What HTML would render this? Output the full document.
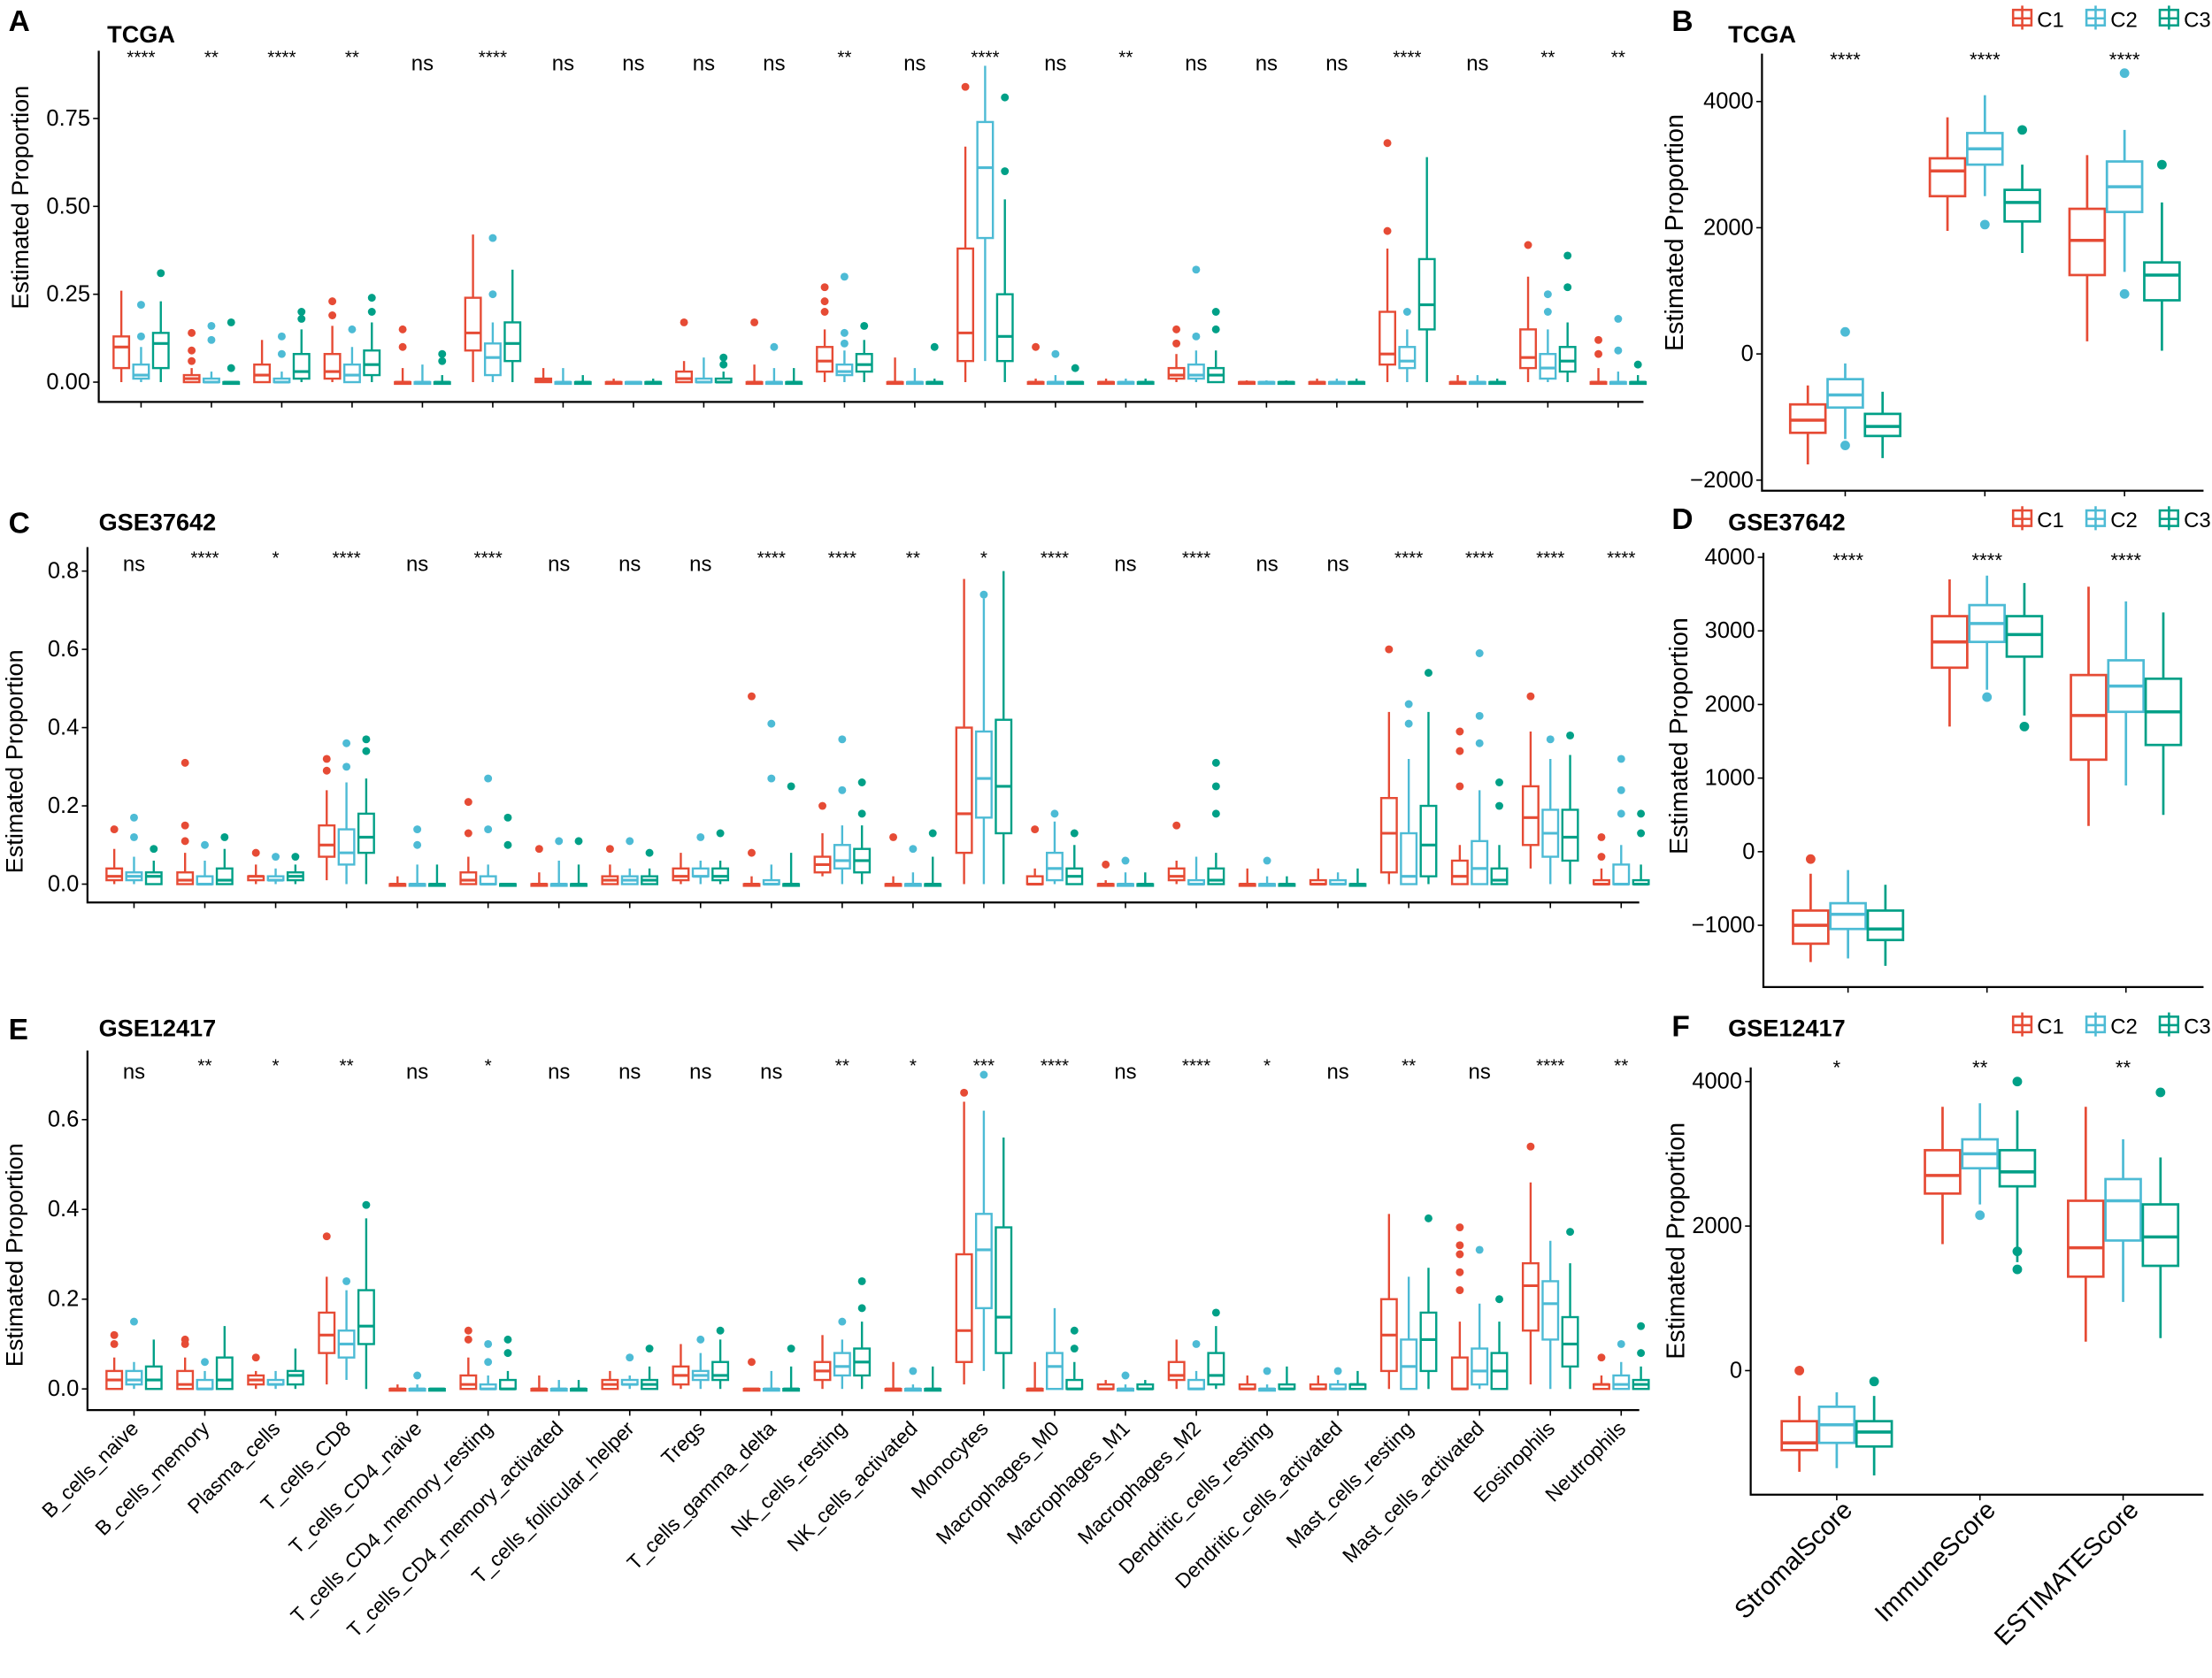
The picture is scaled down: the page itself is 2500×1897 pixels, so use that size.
<!DOCTYPE html>
<html><head><meta charset="utf-8"><style>
html,body{margin:0;padding:0;background:#fff;}
svg{display:block;font-family:"Liberation Sans",Arial,sans-serif;}
</style></head><body>
<svg id="fig" xmlns="http://www.w3.org/2000/svg" width="2500" height="1897" viewBox="0 0 1568 1190" preserveAspectRatio="none"></svg>
<script>
const cells=["B_cells_naive","B_cells_memory","Plasma_cells","T_cells_CD8","T_cells_CD4_naive","T_cells_CD4_memory_resting","T_cells_CD4_memory_activated","T_cells_follicular_helper","Tregs","T_cells_gamma_delta","NK_cells_resting","NK_cells_activated","Monocytes","Macrophages_M0","Macrophages_M1","Macrophages_M2","Dendritic_cells_resting","Dendritic_cells_activated","Mast_cells_resting","Mast_cells_activated","Eosinophils","Neutrophils"];
const scores=["StromalScore","ImmuneScore","ESTIMATEScore"];
const groups=["C1","C2","C3"];
const colors=["#E64B35","#4DBBD5","#00A087"];
// each box: [lowWhisker,q1,median,q3,highWhisker,...outliers]
const sigA=["****","**","****","**","ns","****","ns","ns","ns","ns","**","ns","****","ns","**","ns","ns","ns","****","ns","**","**"];
const boxesA=[
[[0,.04,.1,.13,.26],[0,.01,.02,.05,.1,.13,.22],[0,.04,.11,.14,.23,.31]],
[[0,0,.01,.02,.04,.06,.09,.14],[0,0,0,.01,.03,.12,.16],[0,0,0,0,0,.04,.17]],
[[0,0,.02,.05,.12],[0,0,0,.01,.03,.08,.13],[0,.01,.03,.08,.15,.18,.2]],
[[0,.01,.03,.08,.16,.19,.23],[0,0,.02,.05,.1,.15],[0,.02,.05,.09,.17,.2,.24]],
[[0,0,0,0,.04,.1,.15],[0,0,0,0,.05],[0,0,0,0,.02,.06,.08]],
[[0,.09,.14,.24,.42],[0,.02,.07,.11,.17,.25,.41],[0,.06,.11,.17,.32]],
[[0,0,.005,.01,.04],[0,0,0,0,.04],[0,0,0,0,.02]],
[[0,0,0,0,.01],[0,0,0,0,0],[0,0,0,0,.01]],
[[0,0,.01,.03,.06,.17],[0,0,0,.01,.07],[0,0,0,.01,.03,.05,.07]],
[[0,0,0,0,.05,.17],[0,0,0,0,.04,.1],[0,0,0,0,.04]],
[[0,.03,.06,.1,.15,.2,.23,.27],[0,.02,.03,.05,.09,.11,.14,.3],[0,.03,.05,.08,.12,.16]],
[[0,0,0,0,.07],[0,0,0,0,.04],[0,0,0,0,.01,.1]],
[[0,.06,.14,.38,.67,.84],[.06,.41,.61,.74,.9],[0,.06,.13,.25,.52,.6,.81]],
[[0,0,0,0,.01,.1],[0,0,0,0,.02,.08],[0,0,0,0,0,.04]],
[[0,0,0,0,.01],[0,0,0,0,.01],[0,0,0,0,.01]],
[[0,.01,.02,.04,.08,.11,.15],[0,.01,.02,.05,.09,.13,.32],[0,0,.02,.04,.09,.15,.2]],
[[0,0,0,0,.005],[0,0,0,0,.005],[0,0,0,0,.005]],
[[0,0,0,0,.01],[0,0,0,0,.01],[0,0,0,0,.01]],
[[0,.05,.08,.2,.38,.43,.68],[0,.04,.06,.1,.15,.2],[0,.15,.22,.35,.64]],
[[0,0,0,0,.02],[0,0,0,0,.02],[0,0,0,0,.01]],
[[0,.04,.07,.15,.3,.39],[0,.01,.04,.08,.15,.2,.25],[0,.03,.06,.1,.17,.27,.36]],
[[0,0,0,0,.04,.08,.12],[0,0,0,0,.03,.09,.18],[0,0,0,0,.02,.05]]];
const sigC=["ns","****","*","****","ns","****","ns","ns","ns","****","****","**","*","****","ns","****","ns","ns","****","****","****","****"];
const boxesC=[
[[0,.01,.02,.04,.09,.14],[0,.01,.02,.03,.07,.12,.17],[0,0,.02,.03,.06,.09]],
[[0,0,.01,.03,.08,.11,.15,.31],[0,0,0,.02,.06,.1],[0,0,.01,.04,.09,.12]],
[[0,.01,.02,.02,.05,.08],[0,.01,.01,.02,.04,.07],[0,.01,.02,.03,.05,.07]],
[[.01,.07,.1,.15,.24,.29,.32],[0,.05,.08,.14,.26,.3,.36],[0,.08,.12,.18,.27,.34,.37]],
[[0,0,0,0,.02],[0,0,0,0,.05,.1,.14],[0,0,0,0,.05]],
[[0,0,.01,.03,.07,.13,.21],[0,0,0,.02,.05,.14,.27],[0,0,0,0,0,.1,.17]],
[[0,0,0,0,.03,.09],[0,0,0,0,.06,.11],[0,0,0,0,.05,.11]],
[[0,0,.01,.02,.05,.09],[0,0,.01,.02,.04,.11],[0,0,.01,.02,.04,.08]],
[[0,.01,.02,.04,.08],[0,.02,.02,.04,.06,.12],[0,.01,.02,.04,.06,.13]],
[[0,0,0,0,.02,.08,.48],[0,0,0,.01,.05,.27,.41],[0,0,0,0,.08,.25]],
[[.02,.03,.05,.07,.13,.2],[0,.04,.06,.1,.15,.24,.37],[0,.03,.06,.09,.15,.18,.26]],
[[0,0,0,0,.02,.12],[0,0,0,0,.03,.09],[0,0,0,0,.07,.13]],
[[0,.08,.18,.4,.78],[0,.17,.27,.39,.73,.74],[0,.13,.25,.42,.8]],
[[0,0,0,.02,.04,.14],[0,.01,.04,.08,.16,.18],[0,0,.02,.04,.1,.13]],
[[0,0,0,0,.01,.05],[0,0,0,0,.03,.06],[0,0,0,0,.03]],
[[0,.01,.02,.04,.06,.15],[0,0,0,.01,.07],[0,0,.01,.04,.08,.18,.25,.31]],
[[0,0,0,0,.04],[0,0,0,0,.02,.06],[0,0,0,0,.02]],
[[0,0,0,.01,.04],[0,0,0,.01,.03],[0,0,0,0,.04]],
[[0,.03,.13,.22,.44,.6],[0,0,.02,.13,.32,.41,.46],[0,.02,.1,.2,.44,.54]],
[[0,0,.02,.06,.1,.25,.34,.39],[0,0,.04,.11,.24,.36,.43,.59],[0,0,.01,.04,.1,.2,.26]],
[[.04,.1,.17,.25,.39,.48],[0,.07,.13,.19,.32,.37],[0,.06,.12,.19,.33,.38]],
[[0,0,0,.01,.04,.07,.12],[0,0,0,.05,.1,.18,.24,.32],[0,0,0,.01,.05,.13,.18]]];
const sigE=["ns","**","*","**","ns","*","ns","ns","ns","ns","**","*","***","****","ns","****","*","ns","**","ns","****","**"];
const boxesE=[
[[0,0,.02,.04,.07,.1,.12],[0,.01,.02,.04,.06,.15],[0,0,.02,.05,.11]],
[[0,0,.01,.04,.07,.1,.11],[0,0,0,.02,.04,.06],[0,0,.02,.07,.14]],
[[0,.01,.02,.03,.04,.07],[0,.01,.01,.02,.04],[0,.01,.03,.04,.09]],
[[.01,.08,.12,.17,.25,.34],[.02,.07,.1,.13,.22,.24],[0,.1,.14,.22,.38,.41]],
[[0,0,0,0,.01],[0,0,0,0,.01,.03],[0,0,0,0,0]],
[[0,0,.01,.03,.07,.11,.13],[0,0,0,.01,.03,.06,.1],[0,0,0,.02,.04,.08,.11]],
[[0,0,0,0,.03],[0,0,0,0,.02],[0,0,0,0,.02]],
[[0,0,.01,.02,.04],[0,.01,.01,.02,.03,.07],[0,0,.01,.02,.05,.09]],
[[0,.01,.03,.05,.1],[0,.02,.03,.04,.08,.11],[0,.02,.03,.06,.11,.13]],
[[0,0,0,0,0,.06],[0,0,0,0,.04],[0,0,0,0,.05,.09]],
[[0,.02,.04,.06,.12],[0,.03,.05,.08,.11,.15],[0,.03,.06,.09,.15,.18,.24]],
[[0,0,0,0,.06],[0,0,0,0,.01,.04],[0,0,0,0,.05]],
[[.01,.06,.13,.3,.64,.66],[.04,.18,.31,.39,.62,.7],[0,.08,.16,.36,.56]],
[[0,0,0,0,.06],[0,0,.05,.08,.18],[0,0,0,.02,.06,.09,.13]],
[[0,0,0,.01,.02],[0,0,0,0,.01,.03],[0,0,0,.01,.02]],
[[0,.02,.03,.06,.11],[0,0,0,.02,.04,.1],[0,.01,.03,.08,.14,.17]],
[[0,0,0,.01,.03],[0,0,0,0,.01,.04],[0,0,0,.01,.05]],
[[0,0,0,.01,.03],[0,0,0,.01,.02,.04],[0,0,.01,.01,.04]],
[[0,.04,.12,.2,.39],[0,0,.05,.11,.25],[0,.04,.11,.17,.27,.38]],
[[0,0,0,.07,.15,.22,.26,.3,.32,.36],[0,.01,.04,.09,.19,.31],[0,0,.04,.08,.15,.2]],
[[.01,.13,.23,.28,.46,.54],[0,.11,.19,.24,.33],[0,.05,.1,.16,.28,.35]],
[[0,0,.01,.01,.03,.07],[0,0,.01,.03,.06,.1],[0,0,.01,.02,.05,.08,.14]]];
const sigB=["****","****","****"];
const boxesB=[
[[-1750,-1250,-1050,-800,-500],[-1350,-850,-650,-400,-150,350,-1450],[-1650,-1300,-1150,-950,-600]],
[[1950,2500,2900,3100,3750],[2500,3000,3250,3500,4100,2050],[1600,2100,2400,2600,3000,3550]],
[[200,1250,1800,2300,3150],[1300,2250,2650,3050,3550,4450,950],[50,850,1250,1450,2400,3000]]];
const sigD=["****","****","****"];
const boxesD=[
[[-1500,-1250,-1000,-800,-300,-100],[-1450,-1050,-850,-700,-250],[-1550,-1200,-1050,-800,-450]],
[[1700,2500,2850,3200,3700],[2200,2850,3100,3350,3750,2100],[1850,2650,2950,3200,3650,1700]],
[[350,1250,1850,2400,3600],[900,1900,2250,2600,3400],[500,1450,1900,2350,3250]]];
const sigF=["*","**","**"];
const boxesF=[
[[-1400,-1100,-1000,-700,-350,0],[-1350,-1000,-750,-500,-300],[-1450,-1050,-850,-700,-350,-150]],
[[1750,2450,2700,3050,3650],[2300,2800,3000,3200,3700,2150],[1500,2550,2750,3050,3600,4000,1650,1400]],
[[400,1300,1700,2350,3650],[950,1800,2350,2650,3200],[450,1450,1850,2300,2950,3850]]];
const ticksA=[0,0.25,0.5,0.75], tickLabA=["0.00","0.25","0.50","0.75"];
const ticksC=[0,0.2,0.4,0.6,0.8], tickLabC=["0.0","0.2","0.4","0.6","0.8"];
const ticksE=[0,0.2,0.4,0.6], tickLabE=["0.0","0.2","0.4","0.6"];
const ticksB=[-2000,0,2000,4000], tickLabB=["\u22122000","0","2000","4000"];
const ticksD=[-1000,0,1000,2000,3000,4000], tickLabD=["\u22121000","0","1000","2000","3000","4000"];
const ticksF=[0,2000,4000], tickLabF=["0","2000","4000"];

const NS="http://www.w3.org/2000/svg";
const svg=document.getElementById('fig');
function mk(tag,attrs,parent,text){const e=document.createElementNS(NS,tag);for(const k in attrs)e.setAttribute(k,attrs[k]);if(text!==undefined)e.textContent=text;(parent||svg).appendChild(e);return e;}

function panel(cfg){
  const g=mk('g',{});
  
  
  const y=v=>cfg.y0-(v-cfg.vmin)*cfg.k;
  const x=i=>cfg.x0+i*cfg.dx;
  const L=mk('text',{x:cfg.letterX,y:cfg.letterY,'font-size':21,'font-weight':'bold'},g,cfg.letter);
  
  
  const T=mk('text',{x:cfg.titleX,y:cfg.titleY,'font-size':17,'font-weight':'bold'},g,cfg.title);
  
  
  const ax=mk('path',{d:`M${cfg.axX},${cfg.top} V${cfg.axY} H${cfg.right}`,stroke:'#000','stroke-width':1.4,fill:'none'},g);
  
  
  cfg.ticks.forEach((t,i)=>{
    const ty=y(t);
    mk('line',{x1:cfg.axX-4,x2:cfg.axX,y1:ty,y2:ty,stroke:'#000','stroke-width':1},g);
    const tl=mk('text',{x:cfg.axX-6,y:ty+5,'font-size':cfg.tickFs,'text-anchor':'end',fill:'#000'},g,cfg.tickLab[i]);
    
    
  });
  const yt=mk('text',{x:0,y:0,'font-size':cfg.ytFs,'text-anchor':'middle',transform:`translate(${cfg.ytX},${cfg.ytY}) rotate(-90)`},g,'Estimated Proportion');
  
  
  cfg.boxes.forEach((cat,i)=>{
    const cx=x(i);
    mk('line',{x1:cx,x2:cx,y1:cfg.axY,y2:cfg.axY+4,stroke:'#000','stroke-width':1},g);
    const s=cfg.sig[i];
    const st=mk('text',{x:cx,y:s==='ns'?cfg.sigY+5:cfg.sigY,'font-size':s==='ns'?cfg.nsFs:cfg.starFs,'text-anchor':'middle'},g,s);
    
    
    if(cfg.labels){
      const lt=mk('text',{x:0,y:0,'font-size':cfg.labFs,'text-anchor':'end',transform:`translate(${cx+cfg.labDx},${cfg.axY+cfg.labDy}) rotate(-45)`},g,cfg.labels[i]);
      
      
    }
    cat.forEach((b,j)=>{
      const bx=cx+(j-1)*cfg.off, c=colors[j], w=cfg.bw;
      const bg=mk('g',{stroke:c,'stroke-width':cfg.sw,fill:'#fff'},g);
      
      
      mk('line',{x1:bx,x2:bx,y1:y(b[0]),y2:y(b[4])},bg);
      const h=Math.max(y(b[1])-y(b[3]),1.2);
      mk('rect',{x:bx-w/2,y:y(b[3]),width:w,height:h},bg);
      mk('line',{x1:bx-w/2,x2:bx+w/2,y1:y(b[2]),y2:y(b[2]),'stroke-width':cfg.sw*1.3},bg);
      for(let k=5;k<b.length;k++){
        const o=mk('circle',{cx:bx,cy:y(b[k]),r:cfg.r,fill:c,stroke:'none'},bg);
        
        
      }
    });
  });
  if(cfg.legendY){
    groups.forEach((gname,j)=>{
      const lx=cfg.legendX+j*52, ly=cfg.legendY;
      const lg=mk('g',{},g);
      
      
      mk('rect',{x:lx,y:ly-6,width:13,height:11,fill:'#fff',stroke:colors[j],'stroke-width':1.6},lg);
      mk('line',{x1:lx,x2:lx+13,y1:ly,y2:ly,stroke:colors[j],'stroke-width':1.6},lg);
      mk('line',{x1:lx+6.5,x2:lx+6.5,y1:ly-9,y2:ly+8,stroke:colors[j],'stroke-width':1.6},lg);
      mk('text',{x:lx+17,y:ly+6,'font-size':15},lg,gname);
    });
  }
}
const left={tickFs:16,ytFs:17,starFs:13,nsFs:15,off:14,bw:11,sw:1.5,r:2.8,labFs:14.5,labDx:4};
const right={tickFs:16,ytFs:18,starFs:14,nsFs:15,off:26.5,bw:25,sw:1.7,r:3.4,labFs:18,labDx:12};
panel(Object.assign({},left,{name:'panel-a-tcga',letter:'A',letterX:6,letterY:22,title:'TCGA',titleX:76,titleY:30,axX:70,axY:285,top:36,right:1165,y0:271,vmin:0,k:249.3,x0:100,dx:49.86,ticks:ticksA,tickLab:tickLabA,boxes:boxesA,sig:sigA,sigY:45,ytX:20,ytY:140}));
panel(Object.assign({},left,{name:'panel-c-gse37642',letter:'C',letterX:6,letterY:378,title:'GSE37642',titleX:70,titleY:376,axX:62,axY:640,top:388,right:1162,y0:627,vmin:0,k:277.5,x0:95,dx:50.2,ticks:ticksC,tickLab:tickLabC,boxes:boxesC,sig:sigC,sigY:400,ytX:16,ytY:540}));
panel(Object.assign({},left,{name:'panel-e-gse12417',letter:'E',letterX:6,letterY:737,title:'GSE12417',titleX:70,titleY:735,axX:62,axY:1000,top:745,right:1162,y0:985,vmin:0,k:318.3,x0:95,dx:50.2,ticks:ticksE,tickLab:tickLabE,boxes:boxesE,sig:sigE,sigY:760,ytX:16,ytY:890,labels:cells,labDy:14}));
panel(Object.assign({},right,{name:'panel-b-tcga-scores',letter:'B',letterX:1185,letterY:22,title:'TCGA',titleX:1225,titleY:30,axX:1249,axY:348,top:38,right:1562,y0:251,vmin:0,k:0.04475,x0:1308,dx:99,ticks:ticksB,tickLab:tickLabB,boxes:boxesB,sig:sigB,sigY:47,ytX:1193,ytY:165,legendX:1427,legendY:13}));
panel(Object.assign({},right,{name:'panel-d-gse37642-scores',letter:'D',letterX:1185,letterY:375,title:'GSE37642',titleX:1225,titleY:376,axX:1250,axY:700,top:392,right:1562,y0:604,vmin:0,k:0.0522,x0:1310,dx:98.5,ticks:ticksD,tickLab:tickLabD,boxes:boxesD,sig:sigD,sigY:402,ytX:1196,ytY:522,legendX:1427,legendY:368}));
panel(Object.assign({},right,{name:'panel-f-gse12417-scores',letter:'F',letterX:1185,letterY:735,title:'GSE12417',titleX:1225,titleY:735,axX:1241,axY:1060,top:757,right:1562,y0:972,vmin:0,k:0.05125,x0:1302,dx:101.5,ticks:ticksF,tickLab:tickLabF,boxes:boxesF,sig:sigF,sigY:762,ytX:1194,ytY:880,legendX:1427,legendY:727,labels:scores,labDy:12}));
</script>
</body></html>
